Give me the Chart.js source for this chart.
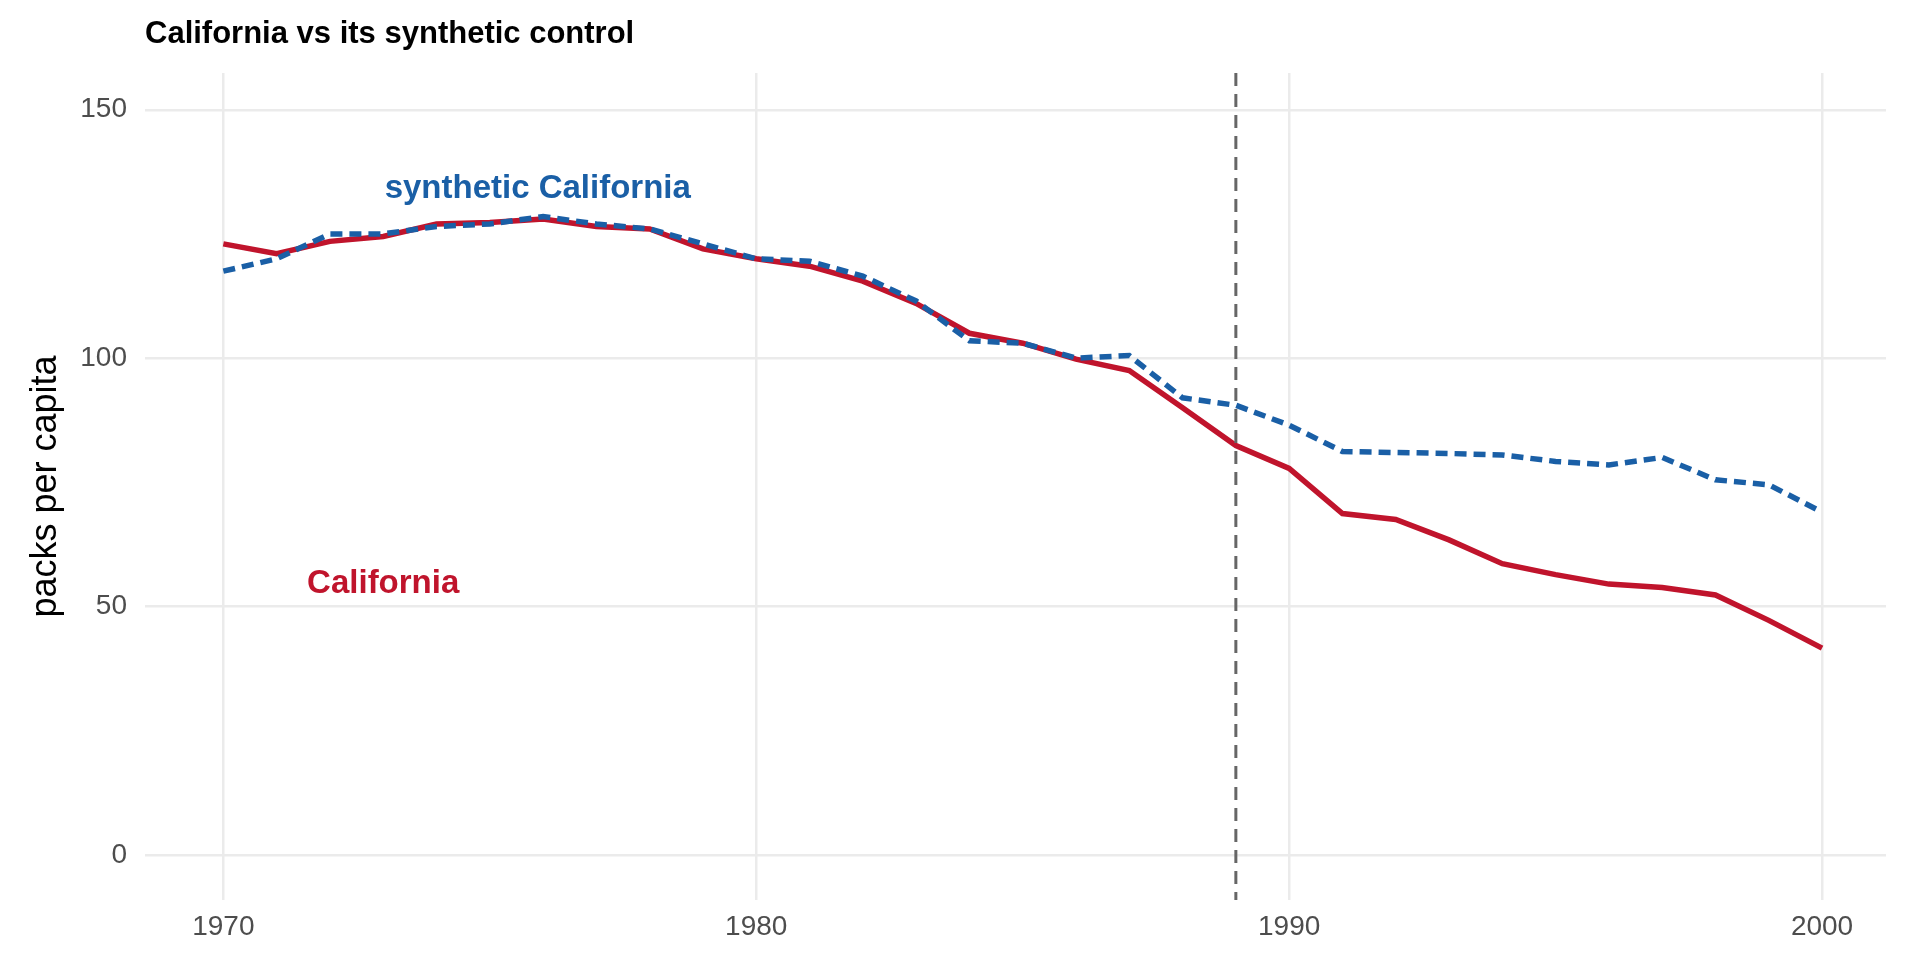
<!DOCTYPE html>
<html>
<head>
<meta charset="utf-8">
<script src="https://cdn.jsdelivr.net/npm/chart.js@4/dist/chart.umd.min.js"></script>
<style>
  html, body { margin: 0; padding: 0; background: #fff; }
  #wrap { width: 1920px; height: 960px; }
</style>
</head>
<body>
<div id="wrap"><canvas id="c" width="1920" height="960"></canvas></div>
<script>
const years = [1970,1971,1972,1973,1974,1975,1976,1977,1978,1979,1980,1981,1982,1983,1984,1985,1986,1987,1988,1989,1990,1991,1992,1993,1994,1995,1996,1997,1998,1999,2000];
const california = [123,121,123.5,124.5,127,127.3,128,126.5,126,122,120,118.5,115.5,111,105,103,99.8,97.5,90,82.4,77.8,68.7,67.5,63.4,58.6,56.4,54.5,53.8,52.3,47.2,41.6];
const synthetic = [117.5,120,125,125,126.5,127,128.5,127,126,123,120,119.5,116.5,111.5,103.5,103,100,100.5,92,90.5,86.5,81.2,81,80.8,80.5,79.2,78.5,80,75.5,74.5,69];
const xTicks = [1970,1980,1990,2000];
const yTicks = [0,50,100,150];
const treatYear = 1989;
const labels = [
  { text: 'synthetic California', x: 1975.9, y: 134, color: '#1a5fa6' },
  { text: 'California', x: 1973, y: 54.5, color: '#c0142c' }
];

const pts = arr => years.map((y, i) => ({ x: y, y: arr[i] }));

const overlay = {
  id: 'overlay',
  afterDatasetsDraw(chart) {
    const { ctx, scales: { x, y }, chartArea } = chart;
    ctx.save();
    ctx.strokeStyle = '#666';
    ctx.lineWidth = 3;
    ctx.setLineDash([13, 8]);
    ctx.beginPath();
    ctx.moveTo(x.getPixelForValue(treatYear), chartArea.top);
    ctx.lineTo(x.getPixelForValue(treatYear), chartArea.bottom);
    ctx.stroke();
    ctx.setLineDash([]);
    ctx.font = 'bold 33px "Liberation Sans", Arial, sans-serif';
    ctx.textAlign = 'center';
    ctx.textBaseline = 'middle';
    labels.forEach(l => {
      ctx.fillStyle = l.color;
      ctx.fillText(l.text, x.getPixelForValue(l.x), y.getPixelForValue(l.y));
    });
    ctx.fillStyle = '#000';
    ctx.textAlign = 'left';
    ctx.font = 'bold 31px "Liberation Sans", Arial, sans-serif';
    ctx.fillText('California vs its synthetic control', 145, 34);
    ctx.restore();
  }
};

new Chart(document.getElementById('c'), {
  type: 'line',
  data: {
    datasets: [
      { data: pts(synthetic), borderColor: '#1a5fa6', borderWidth: 5.5, borderDash: [12, 7], pointRadius: 0, tension: 0 },
      { data: pts(california), borderColor: '#c0142c', borderWidth: 5.5, pointRadius: 0, tension: 0 }
    ]
  },
  options: {
    responsive: false,
    animation: false,
    layout: { padding: { top: 73, right: 34, left: 20, bottom: 0 } },
    plugins: { legend: { display: false }, tooltip: { enabled: false } },
    scales: {
      x: {
        type: 'linear', min: 1968.53, max: 2001.2,
        afterFit(s) { s.height = 60; },
        afterBuildTicks(s) { s.ticks = xTicks.map(v => ({ value: v })); },
        grid: { color: '#ebebeb', lineWidth: 2.5, drawTicks: false },
        border: { display: false },
        ticks: { color: '#4d4d4d', padding: 10, font: { size: 28, family: '"Liberation Sans", Arial, sans-serif' }, callback: v => String(v) }
      },
      y: {
        min: -9.1, max: 157.4,
        afterFit(s) { s.width = 125; },
        afterBuildTicks(s) { s.ticks = yTicks.map(v => ({ value: v })); },
        grid: { color: '#ebebeb', lineWidth: 2.5, drawTicks: false },
        border: { display: false },
        title: { display: true, text: 'packs per capita', color: '#000', padding: { bottom: 4 }, font: { size: 36, family: '"Liberation Sans", Arial, sans-serif' } },
        ticks: { color: '#4d4d4d', padding: 18, font: { size: 28, family: '"Liberation Sans", Arial, sans-serif' } }
      }
    }
  },
  plugins: [overlay]
});
</script>
</body>
</html>
